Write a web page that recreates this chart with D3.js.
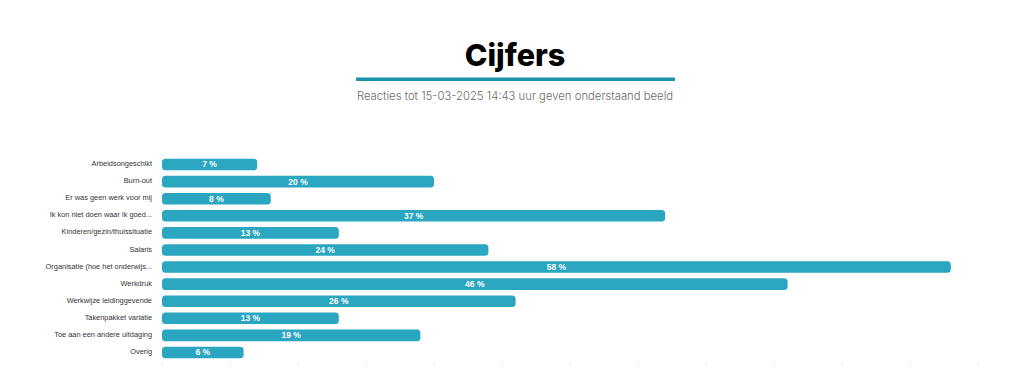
<!DOCTYPE html>
<html>
<head>
<meta charset="utf-8">
<script src="https://cdn.jsdelivr.net/npm/d3@7"></script>
<style>
  body { margin: 0; background: #fff; }
  svg { display: block; }
</style>
</head>
<body>
<script>
const categories = [
  'Arbeidsongeschikt',
  'Burn-out',
  'Er was geen werk voor mij',
  'Ik kon niet doen waar ik goed...',
  'Kinderen/gezin/thuissituatie',
  'Salaris',
  'Organisatie (hoe het onderwijs...',
  'Werkdruk',
  'Werkwijze leidinggevende',
  'Takenpakket variatie',
  'Toe aan een andere uitdaging',
  'Overig'
];
const percentages = [7, 20, 8, 37, 13, 24, 58, 46, 26, 13, 19, 6];
const tickValues = d3.range(0, 61, 5);

const title = 'Cijfers';
const subtitle = 'Reacties tot 15-03-2025 14:43 uur geven onderstaand beeld';

const width = 1024;
const height = 383;
const margin = { top: 157, right: 46, bottom: 23, left: 162 };

const svg = d3.select('body')
  .append('svg')
  .attr('width', width)
  .attr('height', height);

// Header
svg.append('text')
  .attr('x', 515)
  .attr('y', 66)
  .attr('text-anchor', 'middle')
  .style('font-family', 'Inter, Roboto, sans-serif')
  .style('font-weight', 800)
  .style('font-size', '30.5px')
  .style('fill', '#000')
  .text(title);

svg.append('rect')
  .attr('x', 356)
  .attr('y', 77.5)
  .attr('width', 319)
  .attr('height', 3.5)
  .style('fill', '#1a93ac');

svg.append('text')
  .attr('x', 515)
  .attr('y', 100)
  .attr('text-anchor', 'middle')
  .style('font-family', 'Inter, Roboto, sans-serif')
  .style('font-weight', 300)
  .style('font-size', '11.3px')
  .style('fill', '#6b6b6b')
  .text(subtitle);

// Chart
const x = d3.scaleLinear()
  .domain([0, 60])
  .range([margin.left, width - margin.right]);

const y = d3.scaleBand()
  .domain(categories)
  .range([margin.top, height - margin.bottom])
  .paddingInner(0.32)
  .paddingOuter(0.1);

const g = svg.append('g');

// faint ticks along the bottom
const xAxis = d3.axisBottom(x)
  .tickValues(tickValues)
  .tickSize(4)
  .tickFormat('');

g.append('g')
  .attr('class', 'x axis')
  .attr('transform', `translate(0,${height - margin.bottom + 2})`)
  .call(xAxis)
  .call(a => a.select('.domain').remove())
  .call(a => a.selectAll('line').style('stroke', '#ececec'));

g.selectAll('rect.bar')
  .data(percentages)
  .join('rect')
  .attr('class', 'bar')
  .attr('x', x(0))
  .attr('y', (d, i) => y(categories[i]))
  .attr('width', d => x(d) - x(0))
  .attr('height', y.bandwidth())
  .attr('rx', 3.5)
  .style('fill', '#2aa6c1');

g.selectAll('text.value')
  .data(percentages)
  .join('text')
  .attr('class', 'value')
  .attr('x', d => (x(0) + x(d)) / 2)
  .attr('y', (d, i) => y(categories[i]) + y.bandwidth() / 2)
  .attr('dy', '0.35em')
  .attr('text-anchor', 'middle')
  .style('font-family', 'Liberation Sans, Arial, sans-serif')
  .style('font-weight', 'bold')
  .style('font-size', '8.5px')
  .style('fill', '#fff')
  .text(d => `${d} %`);

g.selectAll('text.cat')
  .data(categories)
  .join('text')
  .attr('class', 'cat')
  .attr('x', margin.left - 10)
  .attr('y', d => y(d) + y.bandwidth() / 2 - 1)
  .attr('dy', '0.35em')
  .attr('text-anchor', 'end')
  .style('font-family', 'Liberation Sans, Arial, sans-serif')
  .style('font-size', '7.4px')
  .style('fill', '#333')
  .text(d => d);
</script>
</body>
</html>
